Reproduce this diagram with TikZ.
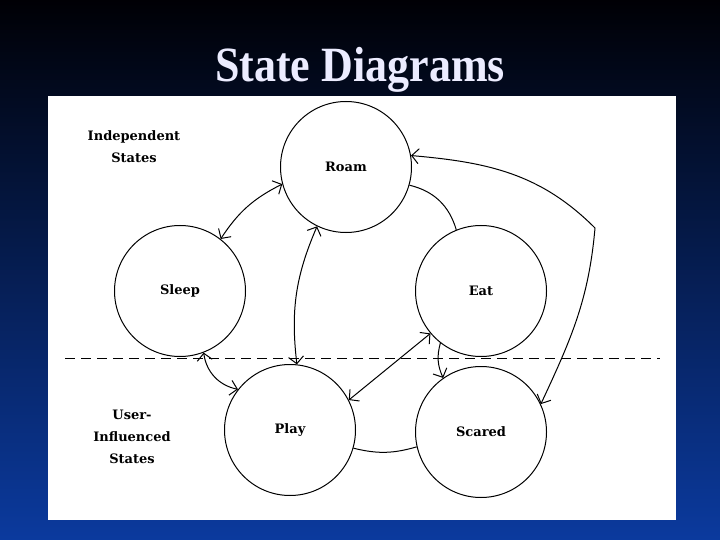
\documentclass[tikz,border=0pt]{standalone}
\usepackage{fontspec}
\usetikzlibrary{arrows.meta}
\setmainfont{Liberation Serif}
\newfontfamily\statefont{DejaVu Serif}
\definecolor{slidetop}{HTML}{000005}
\definecolor{slidebot}{HTML}{0B3A9E}
\definecolor{titletxt}{HTML}{ECECFF}
\newcommand{\lbl}{\statefont\bfseries\fontsize{13}{22}\selectfont}
\newcommand{\ttl}{\bfseries\fontsize{44}{48}\selectfont}

\begin{document}
\begin{tikzpicture}[x=1pt,y=-1pt,
  state/.style={circle,draw,line width=1pt,minimum size=131pt,inner sep=0,font=\lbl},
  link/.style={line width=1pt},
  barb/.tip={Straight Barb[length=7pt,width=15pt]},
  both/.style={link,barb-barb},
  fwd/.style={link,-barb}]
\useasboundingbox (0,0) rectangle (720,540);
\shade[top color=slidetop,bottom color=slidebot] (0,0) rectangle (720,540);
\fill[white] (48,96) rectangle (676,520);
\node[text=titletxt,font=\ttl,yscale=1.12,transform shape] (title) at (360,70) {State Diagrams};
% states
\node[state] (roam) at (346,167) {Roam};
\node[state] (sleep) at (180,291) {Sleep};
\node[state] (eat) at (481,291) {Eat};
\node[state] (play) at (290,430) {Play};
\node[state] (scared) at (481,432) {Scared};
% groups
\node[align=center,font=\lbl] (indep) at (134,147) {Independent\\States};
\node[align=center,font=\lbl] (user) at (132,437) {User-\\Influenced\\States};
\coordinate (split-l) at (65,358);
\coordinate (split-r) at (660,358);
\draw[line width=0.8pt,dash pattern=on 10pt off 6pt] (split-l) -- (split-r);
% transitions
\draw[both] (sleep.52) to[bend left=15] (roam.195);
\draw[link] (roam.-16) to[bend left=30] (eat.112);
\coordinate (kink) at (595,228);
\draw[both] (scared.25) to[out=65,in=-95] (kink) to[out=135,in=-5] (roam.10);
\draw[both] (play.84) to[bend left=15] (roam.244);
\draw[both] (play.27) -- (eat.220);
\draw[fwd] (eat.232) to[bend right=20] (scared.125);
\draw[both] (sleep.-69) to[bend right=35] (play.142);
\draw[link] (play.-16) to[bend right=15] (scared.193);
\end{tikzpicture}
\end{document}
